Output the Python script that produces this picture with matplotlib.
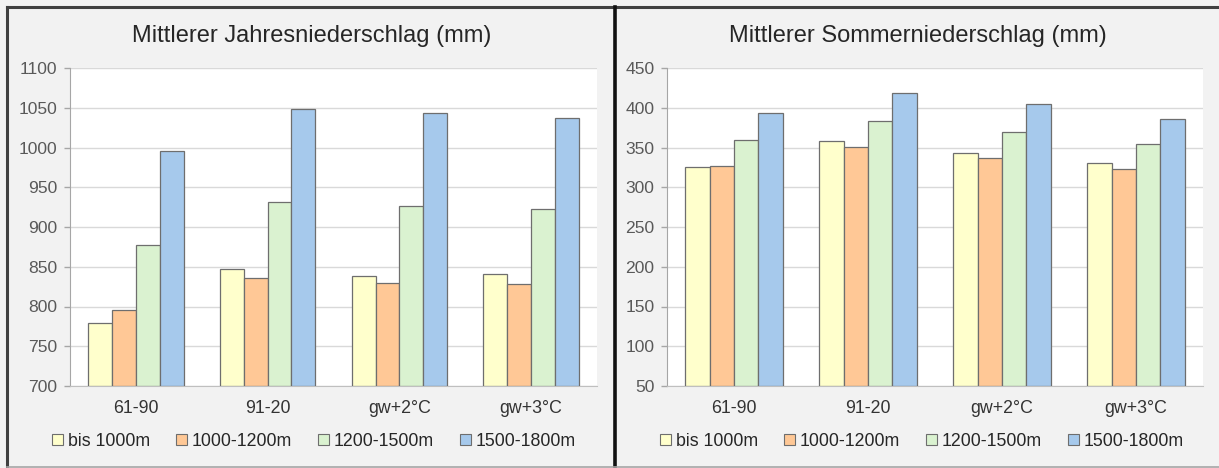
import matplotlib
matplotlib.use('Agg')
import matplotlib.pyplot as plt
from matplotlib.patches import Patch
from matplotlib.lines import Line2D
import numpy as np

plt.rcParams['font.family'] = ['Liberation Sans', 'DejaVu Sans']

# Daten
perioden = ['61-90', '91-20', 'gw+2°C', 'gw+3°C']
hoehenstufen = ['bis 1000m', '1000-1200m', '1200-1500m', '1500-1800m']
farben = ['#FFFFCC', '#FFC896', '#DAF2D0', '#A6C9EC']

jahr = {
    'bis 1000m': [779, 847, 838, 841],
    '1000-1200m': [796, 836, 830, 828],
    '1200-1500m': [877, 932, 927, 923],
    '1500-1800m': [995, 1048, 1044, 1037],
}
sommer = {
    'bis 1000m': [326, 358, 343, 331],
    '1000-1200m': [327, 351, 337, 323],
    '1200-1500m': [359, 383, 370, 354],
    '1500-1800m': [394, 419, 405, 386],
}

W, H = 1219, 468
fig = plt.figure(figsize=(W / 100, H / 100), dpi=100)
fig.patch.set_facecolor('#F2F2F2')


def fx(px):
    return px / W


def fy(py):
    return 1 - py / H


# Rahmen der beiden Felder
fig.add_artist(Line2D([fx(7), fx(1219)], [fy(7), fy(7)], color='#404040', lw=2.2))
fig.add_artist(Line2D([fx(7), fx(7)], [fy(7), fy(467)], color='#404040', lw=2.2))
fig.add_artist(Line2D([fx(615), fx(615)], [fy(7), fy(468)], color='#111111', lw=2.6))
fig.add_artist(Line2D([fx(7), fx(1219)], [fy(466.5), fy(466.5)], color='#A6A6A6', lw=1.2))


def balken(rect, daten, ylim, ystep, titel, titel_x, legende_x):
    ax = fig.add_axes(rect)
    ax.set_facecolor('white')
    x = np.arange(len(perioden))
    bw = 0.181
    for i, name in enumerate(hoehenstufen):
        werte = np.array(daten[name])
        ax.bar(x + (i - 1.5) * bw, werte - ylim[0], bottom=ylim[0], width=bw,
               color=farben[i], edgecolor='#6E6E6E', linewidth=0.9, zorder=3)
    ax.set_xlim(-0.5, len(perioden) - 0.5)
    ax.set_ylim(*ylim)
    ax.set_yticks(np.arange(ylim[0], ylim[1] + 1, ystep))
    ax.set_xticks(x)
    ax.set_xticklabels(perioden, fontsize=12.8, color='#333333')
    ax.tick_params(axis='y', labelsize=12.6, labelcolor='#595959', color='#A6A6A6',
                   length=4, width=1, pad=5)
    ax.tick_params(axis='x', length=0, pad=10)
    ax.grid(axis='y', color='#D9D9D9', lw=1, zorder=0)
    for s in ['top', 'right']:
        ax.spines[s].set_visible(False)
    ax.spines['left'].set_color('#A6A6A6')
    ax.spines['bottom'].set_color('#BFBFBF')
    fig.text(titel_x, fy(36), titel, ha='center', va='center', fontsize=17, color='#262626')
    handles = [Patch(facecolor=farben[i], edgecolor='#6E6E6E', lw=0.8, label=n)
               for i, n in enumerate(hoehenstufen)]
    fig.legend(handles=handles, loc='center', bbox_to_anchor=(legende_x, fy(441)),
               ncol=4, frameon=False, fontsize=12.8, handlelength=0.6, handleheight=0.6,
               handletextpad=0.25, columnspacing=1.5, labelcolor='#262626')
    return ax


balken([fx(70), fy(386), fx(597 - 70), fy(68) - fy(386)], jahr, (700, 1100), 50,
       'Mittlerer Jahresniederschlag (mm)', fx(312), fx(314))
balken([fx(667), fy(386), fx(1203 - 667), fy(68) - fy(386)], sommer, (50, 450), 50,
       'Mittlerer Sommerniederschlag (mm)', fx(918), fx(922))

fig.savefig('out.png', dpi=100, facecolor=fig.get_facecolor())
